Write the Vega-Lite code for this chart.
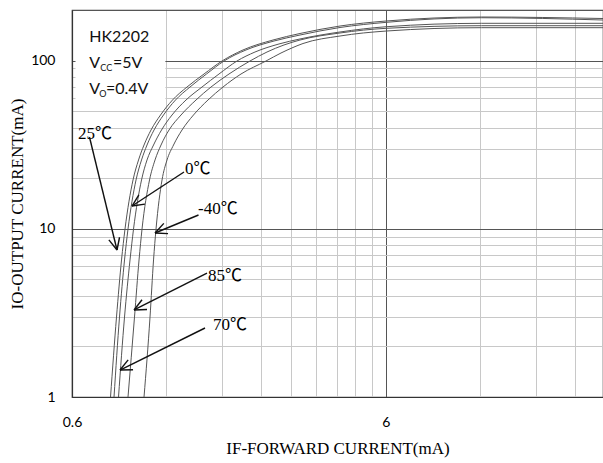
{
  "$schema": "https://vega.github.io/schema/vega-lite/v6.json",
  "width": 531,
  "height": 387,
  "autosize": {"type": "none"},
  "padding": {"left": 72, "top": 10, "right": 0, "bottom": 66},
  "background": "white",
  "config": {"view": {"stroke": "#444444", "strokeWidth": 1.2}},
  "datasets": {
    "box": [{"x": 0.6156, "x2": 1.19, "y": 56, "y2": 196}],
    "curves": [
      {"series": "25℃", "x": 0.7959, "y": 1}, {"series": "25℃", "x": 0.8317, "y": 2.99}, {"series": "25℃", "x": 0.8628, "y": 6.53}, {"series": "25℃", "x": 0.8852, "y": 9.97}, {"series": "25℃", "x": 0.9388, "y": 19.51}, {"series": "25℃", "x": 0.9775, "y": 25.66}, {"series": "25℃", "x": 1.0177, "y": 31.5}, {"series": "25℃", "x": 1.0713, "y": 38.68}, {"series": "25℃", "x": 1.1486, "y": 47.5}, {"series": "25℃", "x": 1.2543, "y": 58.33}, {"series": "25℃", "x": 1.3949, "y": 69.69}, {"series": "25℃", "x": 1.5801, "y": 83.26}, {"series": "25℃", "x": 1.8032, "y": 99.48}, {"series": "25℃", "x": 2.1034, "y": 115.7}, {"series": "25℃", "x": 2.621, "y": 132.6}, {"series": "25℃", "x": 3.1952, "y": 145.0}, {"series": "25℃", "x": 4.2856, "y": 160.6}, {"series": "25℃", "x": 6.03, "y": 172.1}, {"series": "25℃", "x": 12.1, "y": 181.7}, {"series": "25℃", "x": 29.5, "y": 178.0},
      {"series": "70℃", "x": 0.8166, "y": 1}, {"series": "70℃", "x": 0.8502, "y": 2.99}, {"series": "70℃", "x": 0.882, "y": 6.53}, {"series": "70℃", "x": 0.9049, "y": 9.97}, {"series": "70℃", "x": 0.9597, "y": 19.51}, {"series": "70℃", "x": 0.9992, "y": 25.66}, {"series": "70℃", "x": 1.0403, "y": 31.5}, {"series": "70℃", "x": 1.0952, "y": 38.68}, {"series": "70℃", "x": 1.174, "y": 47.5}, {"series": "70℃", "x": 1.2823, "y": 58.33}, {"series": "70℃", "x": 1.4258, "y": 69.69}, {"series": "70℃", "x": 1.6093, "y": 83.26}, {"series": "70℃", "x": 1.8299, "y": 99.48}, {"series": "70℃", "x": 2.1502, "y": 115.7}, {"series": "70℃", "x": 2.6403, "y": 130.8}, {"series": "70℃", "x": 3.1952, "y": 142.0}, {"series": "70℃", "x": 4.2856, "y": 157.4}, {"series": "70℃", "x": 6.03, "y": 169.0}, {"series": "70℃", "x": 12.1, "y": 179.9}, {"series": "70℃", "x": 29.5, "y": 174.4},
      {"series": "0℃", "x": 0.844, "y": 1}, {"series": "0℃", "x": 0.882, "y": 2.99}, {"series": "0℃", "x": 0.9183, "y": 6.53}, {"series": "0℃", "x": 0.9422, "y": 9.97}, {"series": "0℃", "x": 0.9992, "y": 19.51}, {"series": "0℃", "x": 1.0403, "y": 25.66}, {"series": "0℃", "x": 1.0912, "y": 31.5}, {"series": "0℃", "x": 1.157, "y": 38.68}, {"series": "0℃", "x": 1.2497, "y": 47.5}, {"series": "0℃", "x": 1.3847, "y": 58.33}, {"series": "0℃", "x": 1.5571, "y": 69.69}, {"series": "0℃", "x": 1.7638, "y": 83.26}, {"series": "0℃", "x": 2.0129, "y": 99.48}, {"series": "0℃", "x": 2.2967, "y": 112.5}, {"series": "0℃", "x": 2.7389, "y": 125.6}, {"series": "0℃", "x": 3.1952, "y": 134.5}, {"series": "0℃", "x": 4.2856, "y": 148.0}, {"series": "0℃", "x": 6.03, "y": 159.1}, {"series": "0℃", "x": 12.1, "y": 166.7}, {"series": "0℃", "x": 29.5, "y": 166.7},
      {"series": "85℃", "x": 0.9049, "y": 1}, {"series": "85℃", "x": 0.9491, "y": 2.99}, {"series": "85℃", "x": 0.9811, "y": 6.53}, {"series": "85℃", "x": 1.0029, "y": 9.97}, {"series": "85℃", "x": 1.0596, "y": 19.51}, {"series": "85℃", "x": 1.1032, "y": 25.66}, {"series": "85℃", "x": 1.1528, "y": 31.5}, {"series": "85℃", "x": 1.2225, "y": 38.68}, {"series": "85℃", "x": 1.3349, "y": 47.5}, {"series": "85℃", "x": 1.4901, "y": 58.33}, {"series": "85℃", "x": 1.6635, "y": 69.69}, {"series": "85℃", "x": 1.898, "y": 83.26}, {"series": "85℃", "x": 2.2141, "y": 99.48}, {"series": "85℃", "x": 2.5082, "y": 112.5}, {"series": "85℃", "x": 2.8412, "y": 123.9}, {"series": "85℃", "x": 3.1952, "y": 132.6}, {"series": "85℃", "x": 4.2856, "y": 146.0}, {"series": "85℃", "x": 6.03, "y": 155.7}, {"series": "85℃", "x": 12.1, "y": 161.3}, {"series": "85℃", "x": 29.5, "y": 161.3},
      {"series": "-40℃", "x": 1.0177, "y": 1}, {"series": "-40℃", "x": 1.0635, "y": 2.99}, {"series": "-40℃", "x": 1.0912, "y": 6.53}, {"series": "-40℃", "x": 1.1113, "y": 9.97}, {"series": "-40℃", "x": 1.1613, "y": 19.51}, {"series": "-40℃", "x": 1.2047, "y": 25.66}, {"series": "-40℃", "x": 1.2635, "y": 31.5}, {"series": "-40℃", "x": 1.3447, "y": 38.68}, {"series": "-40℃", "x": 1.4629, "y": 47.5}, {"series": "-40℃", "x": 1.6271, "y": 58.33}, {"series": "-40℃", "x": 1.8165, "y": 69.69}, {"series": "-40℃", "x": 2.0728, "y": 83.26}, {"series": "-40℃", "x": 2.4898, "y": 99.48}, {"series": "-40℃", "x": 2.7794, "y": 111.0}, {"series": "-40℃", "x": 3.0352, "y": 119.7}, {"series": "-40℃", "x": 3.2663, "y": 126.4}, {"series": "-40℃", "x": 4.2856, "y": 140.1}, {"series": "-40℃", "x": 6.03, "y": 150.0}, {"series": "-40℃", "x": 12.1, "y": 157.0}, {"series": "-40℃", "x": 29.5, "y": 157.0}
    ],
    "arrows": [
      {"x": 0.682, "y": 35.14, "x2": 0.8347, "y2": 7.482},
      {"x": 0.8504, "y": 8.909, "x2": 0.8347, "y2": 7.482},
      {"x": 0.7864, "y": 8.598, "x2": 0.8347, "y2": 7.482},
      {"x": 1.3646, "y": 21.77, "x2": 0.932, "y2": 13.66},
      {"x": 1.0241, "y": 14.02, "x2": 0.932, "y2": 13.66},
      {"x": 0.9798, "y": 15.9, "x2": 0.932, "y2": 13.66},
      {"x": 1.5176, "y": 12.08, "x2": 1.1032, "y2": 9.443},
      {"x": 1.2135, "y": 9.366, "x2": 1.1032, "y2": 9.443},
      {"x": 1.1766, "y": 10.77, "x2": 1.1032, "y2": 9.443},
      {"x": 1.6152, "y": 5.461, "x2": 0.9458, "y2": 3.292},
      {"x": 1.0403, "y": 3.31, "x2": 0.9458, "y2": 3.292},
      {"x": 1.0027, "y": 3.785, "x2": 0.9458, "y2": 3.292},
      {"x": 1.5918, "y": 2.572, "x2": 0.8533, "y2": 1.447},
      {"x": 0.9389, "y": 1.453, "x2": 0.8533, "y2": 1.447},
      {"x": 0.9058, "y": 1.662, "x2": 0.8533, "y2": 1.447}
    ],
    "temps": [
      {"t": "25℃", "x": 0.627, "y": 34.2},
      {"t": "0℃", "x": 1.3745, "y": 21.18},
      {"t": "-40℃", "x": 1.5121, "y": 12.25},
      {"t": "85℃", "x": 1.6271, "y": 4.894},
      {"t": "70℃", "x": 1.6879, "y": 2.503}
    ],
    "boxtext": [
      {"t": "HK2202", "x": 0.6812, "y": 129.6},
      {"t": "V", "x": 0.6812, "y": 90.05},
      {"t": "=5V", "x": 0.8105, "y": 90.05},
      {"t": "V", "x": 0.6812, "y": 63.31},
      {"t": "=0.4V", "x": 0.7699, "y": 63.31}
    ],
    "subtext": [
      {"t": "CC", "x": 0.7384, "y": 86.78},
      {"t": "O", "x": 0.7331, "y": 60.77}
    ]
  },
  "encoding": {
    "x": {
      "field": "x", "type": "quantitative",
      "scale": {"type": "log", "domain": [0.6, 29.5], "nice": false},
      "axis": {
        "values": [0.6, 1.2, 1.8, 2.4, 3, 3.6, 4.2, 4.8, 5.4, 6, 12, 18, 24],
        "grid": true,
        "gridColor": {"condition": {"test": "datum.value == 0.6 || datum.value == 6", "value": "#555555"}, "value": "#c8c8c8"},
        "gridWidth": 1,
        "labelExpr": "datum.value == 0.6 ? '0.6' : datum.value == 6 ? '6' : ''",
        "labelFlush": false, "labelOverlap": false,
        "ticks": false, "tickSize": 0,
        "domainColor": "#333333", "domainWidth": 1.2,
        "labelFont": "Lato", "labelFontSize": 14, "labelColor": "#000000", "labelPadding": 18,
        "title": "IF-FORWARD CURRENT(mA)", "titleFont": "Liberation Serif", "titleFontSize": 17,
        "titleFontWeight": "normal", "titleColor": "#000000", "titlePadding": 11
      }
    },
    "y": {
      "field": "y", "type": "quantitative",
      "scale": {"type": "log", "domain": [1, 200], "nice": false},
      "axis": {
        "values": [1, 2, 3, 4, 5, 6, 7, 8, 9, 10, 20, 30, 40, 50, 60, 70, 80, 90, 100, 200],
        "grid": true,
        "gridColor": {"condition": {"test": "datum.value == 1 || datum.value == 10 || datum.value == 100 || datum.value == 200", "value": "#555555"}, "value": "#c8c8c8"},
        "gridWidth": 1,
        "labelExpr": "datum.value == 1 ? '1' : datum.value == 10 ? '10' : datum.value == 100 ? '100' : ''",
        "labelOverlap": false, "labelFlush": false,
        "ticks": false, "tickSize": 0,
        "domainColor": "#333333", "domainWidth": 1.2,
        "labelFont": "Lato", "labelFontSize": 14, "labelColor": "#000000", "labelPadding": 17,
        "title": "IO-OUTPUT CURRENT(mA)", "titleFont": "Liberation Serif", "titleFontSize": 17,
        "titleFontWeight": "normal", "titleColor": "#000000", "titlePadding": 4
      }
    }
  },
  "layer": [
    {
      "data": {"name": "box"},
      "mark": {"type": "rect", "color": "white"},
      "encoding": {"x2": {"field": "x2"}, "y2": {"field": "y2"}}
    },
    {
      "data": {"name": "curves"},
      "mark": {"type": "line", "interpolate": "monotone", "color": "#555555", "strokeWidth": 1, "clip": true},
      "encoding": {"detail": {"field": "series", "type": "nominal"}}
    },
    {
      "data": {"name": "arrows"},
      "mark": {"type": "rule", "color": "#111111", "strokeWidth": 1.4},
      "encoding": {"x2": {"field": "x2"}, "y2": {"field": "y2"}}
    },
    {
      "data": {"name": "temps"},
      "mark": {"type": "text", "font": "Liberation Serif, Noto Sans CJK SC", "fontSize": 17, "align": "left", "baseline": "alphabetic", "color": "#000000"},
      "encoding": {"text": {"field": "t"}}
    },
    {
      "data": {"name": "boxtext"},
      "mark": {"type": "text", "font": "Lato", "fontSize": 16, "align": "left", "baseline": "alphabetic", "color": "#111111"},
      "encoding": {"text": {"field": "t"}}
    },
    {
      "data": {"name": "subtext"},
      "mark": {"type": "text", "font": "Lato", "fontSize": 9, "align": "left", "baseline": "alphabetic", "color": "#111111"},
      "encoding": {"text": {"field": "t"}}
    }
  ]
}
